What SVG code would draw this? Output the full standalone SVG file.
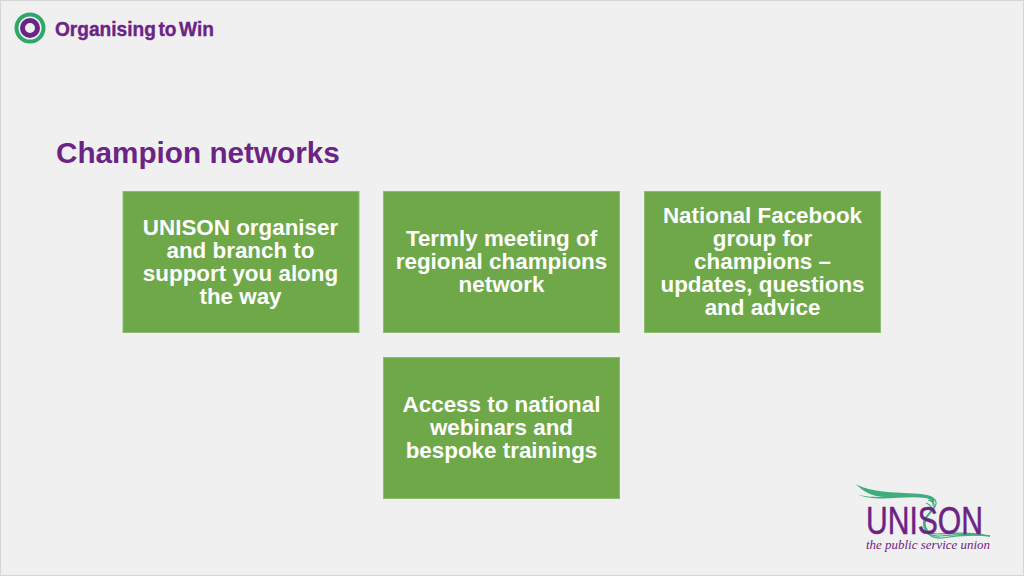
<svg xmlns="http://www.w3.org/2000/svg" width="1024" height="576" viewBox="0 0 1024 576">
<style>
text{font-family:"Liberation Sans",Arial,sans-serif}
.box{fill:#6ea848;stroke:#8dbb70;stroke-width:1}
.t{fill:#fff;font-size:22.400px;font-weight:700;text-anchor:middle}
.p{fill:#6b2485}
</style>
<rect width="1024" height="576" fill="#d6d6d6"/>
<rect x="1" y="1" width="1022" height="574" fill="#f0f0f0"/>
<g id="logo-otw">
<circle cx="30" cy="28" r="13.500" fill="none" stroke="#2fa76a" stroke-width="4"/>
<circle cx="30" cy="28" r="7.500" fill="none" stroke="#6b2485" stroke-width="5"/>
<text x="55" y="35.500" class="p" font-size="21" font-weight="700" stroke="#6b2485" stroke-width=".4" word-spacing="-3" textLength="159" lengthAdjust="spacingAndGlyphs">Organising to Win</text>
</g>
<text id="title" x="56" y="162.500" class="p" font-size="29.700" font-weight="700">Champion networks</text>
<g id="node-organiser"><rect class="box" x="123" y="191.500" width="236" height="141"/>
<text class="t"><tspan x="240.500" y="235">UNISON organiser</tspan><tspan x="240.500" y="258">and branch to</tspan><tspan x="240.500" y="281">support you along</tspan><tspan x="240.500" y="304">the way</tspan></text></g>
<g id="node-regional"><rect class="box" x="383.500" y="191.500" width="236" height="141"/>
<text class="t"><tspan x="501.500" y="246">Termly meeting of</tspan><tspan x="501.500" y="269">regional champions</tspan><tspan x="501.500" y="292">network</tspan></text></g>
<g id="node-facebook"><rect class="box" x="644.500" y="191.500" width="236" height="141"/>
<text class="t"><tspan x="762.500" y="223">National Facebook</tspan><tspan x="762.500" y="246">group for</tspan><tspan x="762.500" y="269">champions –</tspan><tspan x="762.500" y="292">updates, questions</tspan><tspan x="762.500" y="315">and advice</tspan></text></g>
<g id="node-webinars"><rect class="box" x="383.500" y="357.500" width="236" height="141"/>
<text class="t"><tspan x="501.500" y="412">Access to national</tspan><tspan x="501.500" y="435">webinars and</tspan><tspan x="501.500" y="458">bespoke trainings</tspan></text></g>
<g id="connectors"></g>
<g id="logo-unison">
<path d="M856 484C875 495 905 491 927 495C938 497 935 503 930 509C935 503 932 499 925 498C905 495 875 503 857 494C864 497 875 497 885 497C873 497 862 491 856 484Z" fill="#3fae7e"/>
<g fill="none" stroke="#3fae7e" stroke-width="1.200">
<path d="M930 497C940 500 936 507 930 513C921 523 925 534 938 534C955 533 970 532 990 536"/>
<path d="M928 500C938 503 934 509 928 515C920 524 926 537 940 536C957 534 972 533 990 536"/>
<path d="M926 503C934 506 932 511 926 517C919 525 927 539 942 538C958 535 972 534 990 536"/>
</g>
<text x="866" y="533.500" class="p" font-size="38" stroke="#6b2485" stroke-width=".5" textLength="117" lengthAdjust="spacingAndGlyphs">UNISON</text>
<text x="866" y="548.500" class="p" style="font-family:'Liberation Serif',serif" font-size="12.500" font-style="italic" textLength="124" lengthAdjust="spacingAndGlyphs">the public service union</text>
</g>
</svg>
